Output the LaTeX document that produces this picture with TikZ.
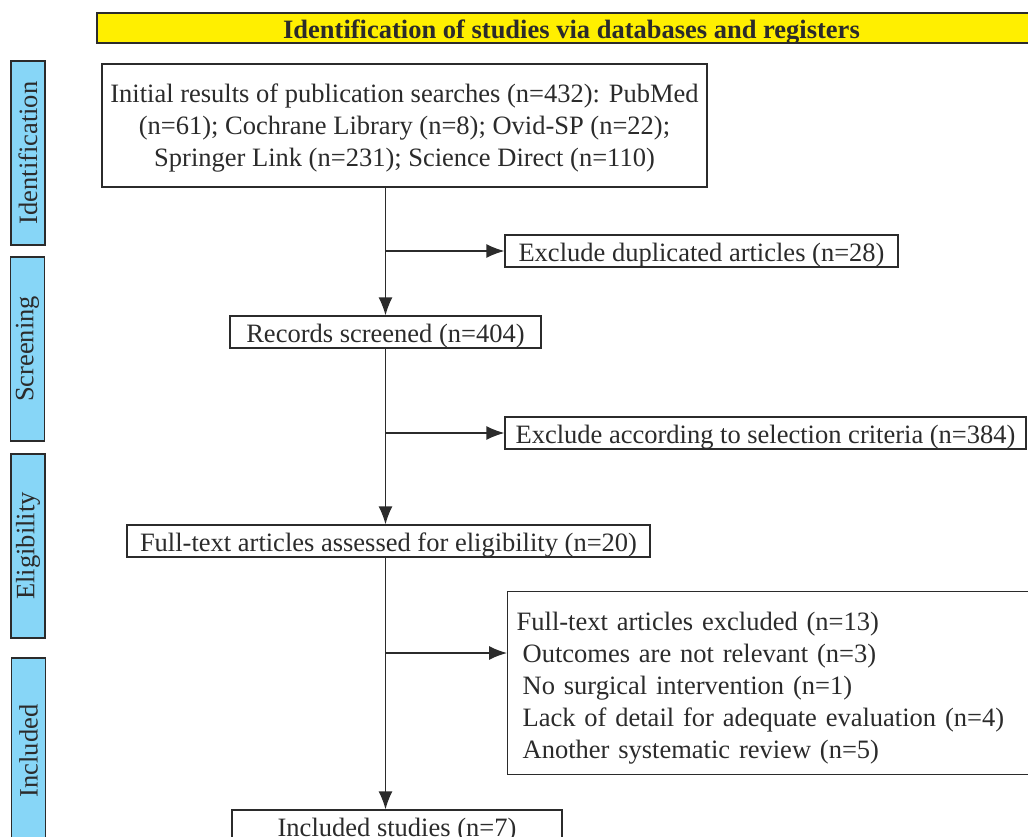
\documentclass[tikz,border=0pt]{standalone}
\usepackage{fontspec}
\setmainfont{Liberation Serif}
\usetikzlibrary{arrows.meta}
\definecolor{bannerfill}{HTML}{FFEF00}
\definecolor{phasefill}{HTML}{87D6F7}
\definecolor{inkgray}{HTML}{2B2B2B}
\begin{document}
\begin{tikzpicture}[x=1pt,y=-1pt,
    every node/.style={font=\fontsize{26.5}{32}\selectfont,text=inkgray},
    flowbox/.style={draw=inkgray,line width=1.3pt,fill=white,inner sep=0pt,minimum height=32pt,
      text height=20pt,text depth=0pt},
    listbox/.style={draw=inkgray,line width=1.3pt,fill=white,inner sep=0pt},
    phase/.style={draw=inkgray,line width=1.5pt,fill=phasefill,rotate=90,inner sep=0pt,minimum height=34pt},
    banner/.style={draw=inkgray,line width=1.8pt,fill=bannerfill,inner sep=0pt,minimum height=30pt,
      text height=20pt,text depth=0pt,font=\fontsize{26.5}{32}\selectfont\bfseries}]
  \useasboundingbox (0,0) rectangle (1028,836);
  \clip (0,0) rectangle (1028,836);
  \node[banner,minimum width=949pt] (title) at (571.5,28)
    {Identification of studies via databases and registers};
  \node[phase,minimum width=184pt] (identification) at (28,153) {Identification};
  \node[phase,minimum width=184pt] (screening) at (27.5,349) {Screening};
  \node[phase,minimum width=184pt] (eligibility) at (28,546) {Eligibility};
  \node[phase,minimum width=186pt] (included-ph) at (28.5,751) {Included};
  \node[listbox,text depth=-5pt,minimum width=605pt,minimum height=123pt,align=center] (search) at (404.5,125.5)
    {Initial results of publication searches (n=432): PubMed\\
     (n=61); Cochrane Library (n=8); Ovid-SP (n=22);\\
     Springer Link (n=231); Science Direct (n=110)};
  \node[flowbox,minimum width=393pt] (dup) at (701.5,251) {Exclude duplicated articles (n=28)};
  \node[flowbox,minimum width=311pt] (screened) at (385.5,332) {Records screened (n=404)};
  \node[flowbox,minimum width=521pt] (criteria) at (765.5,433) {Exclude according to selection criteria (n=384)};
  \node[flowbox,minimum width=523pt] (fulltext) at (388.5,541) {Full-text articles assessed for eligibility (n=20)};
  \node[listbox,text height=28pt,anchor=north west,minimum height=183pt,inner xsep=9pt,text width=515pt,align=left] (excluded) at (507,591)
    {Full-text articles excluded (n=13)\\
     \hspace*{6pt}Outcomes are not relevant (n=3)\\
     \hspace*{6pt}No surgical intervention (n=1)\\
     \hspace*{6pt}Lack of detail for adequate evaluation (n=4)\\
     \hspace*{6pt}Another systematic review (n=5)};
  \node[flowbox,minimum width=330pt] (included) at (397,826) {Included studies (n=7)};
  \coordinate (exc-in) at ([yshift=-62pt]excluded.north west);
  \begin{scope}[draw=inkgray,line width=1.3pt,-{Latex[length=18pt,width=14pt]}]
    \draw (screened.north |- search.south) -- (screened.north);
    \draw (screened.north |- dup.west) -- (dup.west);
    \draw (screened.south) -- (screened.south |- fulltext.north);
    \draw (screened.south |- criteria.west) -- (criteria.west);
    \draw (screened.south |- fulltext.south) -- (screened.south |- included.north);
    \draw (screened.south |- exc-in) -- (exc-in);
  \end{scope}
\end{tikzpicture}
\end{document}
